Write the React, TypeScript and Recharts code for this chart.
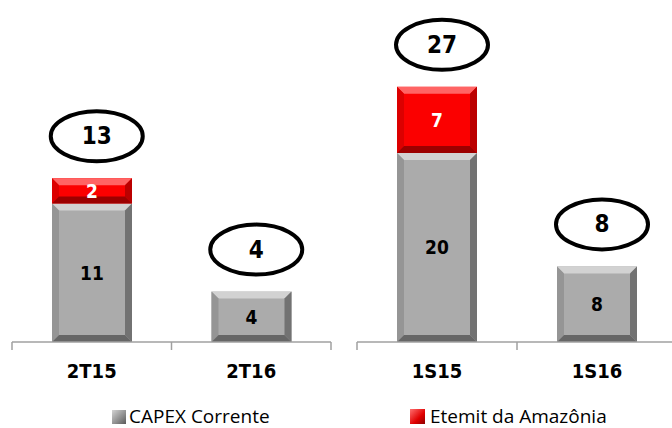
import React from "react";
import {
  Bar,
  ComposedChart,
  LabelList,
  Line,
  XAxis,
  YAxis,
} from "recharts";

const quarterLabels = ["2T15", "2T16"];
const quarterCapex = [11, 4];
const quarterEternit = [2, 0];

const semesterLabels = ["1S15", "1S16"];
const semesterCapex = [20, 8];
const semesterEternit = [7, 0];

const seriesNames = ["CAPEX Corrente", "Etemit da Amazônia"];

const build = (labels: string[], capex: number[], eternit: number[]) =>
  labels.map((name, i) => ({
    name,
    capex: capex[i],
    eternit: eternit[i],
    total: capex[i] + eternit[i],
  }));

const quarterData = build(quarterLabels, quarterCapex, quarterEternit);
const semesterData = build(semesterLabels, semesterCapex, semesterEternit);

const BOLD = "DejaVu Sans Condensed, DejaVu Sans, sans-serif";

const GRAY = { face: "#ababab", top: "#d2d2d2", left: "#959595", right: "#727272", bottom: "#666666" };
const RED = { face: "#fb0000", top: "#ff6464", left: "#dc0000", right: "#bb0000", bottom: "#9c0000" };

function bevelShape(c: typeof GRAY) {
  return (props: any) => {
    const { x, y, width: w, height: h } = props;
    if (!h || h <= 0) return <g />;
    const b = Math.min(7, h / 3);
    return (
      <g>
        <rect x={x} y={y} width={w} height={h} fill={c.face} />
        <polygon points={`${x},${y} ${x + w},${y} ${x + w - b},${y + b} ${x + b},${y + b}`} fill={c.top} />
        <polygon points={`${x},${y} ${x + b},${y + b} ${x + b},${y + h - b} ${x},${y + h}`} fill={c.left} />
        <polygon points={`${x + w},${y} ${x + w},${y + h} ${x + w - b},${y + h - b} ${x + w - b},${y + b}`} fill={c.right} />
        <polygon points={`${x},${y + h} ${x + b},${y + h - b} ${x + w - b},${y + h - b} ${x + w},${y + h}`} fill={c.bottom} />
      </g>
    );
  };
}

const valueLabel = (color: string) => (props: any) => {
  const { x, y, width, height, value } = props;
  if (!value) return null;
  return (
    <text
      x={x + width / 2}
      y={y + height / 2}
      textAnchor="middle"
      dominantBaseline="central"
      fontFamily={BOLD}
      fontWeight="bold"
      fontSize={19}
      fill={color}
    >
      {value}
    </text>
  );
};

const totalEllipse = (props: any) => {
  const { cx, cy, value, index } = props;
  return (
    <g key={`tot-${index}`}>
      <ellipse cx={cx + 5} cy={cy - 42} rx={46} ry={25} fill="#fff" stroke="#000" strokeWidth={4} />
      <text
        x={cx + 5}
        y={cy - 42}
        textAnchor="middle"
        dominantBaseline="central"
        fontFamily={BOLD}
        fontWeight="bold"
        fontSize={24}
        fill="#000"
      >
        {value}
      </text>
    </g>
  );
};

const categoryTick = (half: number, count: number) => (props: any) => {
  const { x, y, payload, index } = props;
  return (
    <g>
      <line x1={x - half} y1={y} x2={x - half} y2={y + 8} stroke="#a0a0a0" strokeWidth={1.5} />
      {index === count - 1 && (
        <line x1={x + half} y1={y} x2={x + half} y2={y + 8} stroke="#a0a0a0" strokeWidth={1.5} />
      )}
      <text
        x={x}
        y={y + 36}
        textAnchor="middle"
        fontFamily={BOLD}
        fontWeight="bold"
        fontSize={20}
        fill="#000"
      >
        {payload.value}
      </text>
    </g>
  );
};

function Panel({
  data,
  width,
  max,
  margin,
  half,
}: {
  data: any[];
  width: number;
  max: number;
  margin: { top: number; right: number; left: number; bottom: number };
  half: number;
}) {
  return (
    <ComposedChart width={width} height={390} data={data} margin={margin} barCategoryGap={0}>
      <XAxis
        dataKey="name"
        height={48}
        tickLine={false}
        tickSize={0}
        tickMargin={0}
        axisLine={{ stroke: "#a0a0a0", strokeWidth: 1.5 }}
        tick={categoryTick(half, data.length)}
        interval={0}
      />
      <YAxis hide domain={[0, max]} />
      <Bar dataKey="capex" stackId="a" barSize={80} shape={bevelShape(GRAY)} isAnimationActive={false}>
        <LabelList dataKey="capex" content={valueLabel("#000")} />
      </Bar>
      <Bar dataKey="eternit" stackId="a" barSize={80} shape={bevelShape(RED)} isAnimationActive={false}>
        <LabelList dataKey="eternit" content={valueLabel("#fff")} />
      </Bar>
      <Line
        dataKey="total"
        stroke="none"
        dot={totalEllipse}
        activeDot={false}
        isAnimationActive={false}
        legendType="none"
      />
    </ComposedChart>
  );
}

export default function App() {
  return (
    <div
      style={{
        position: "absolute",
        left: 0,
        top: 0,
        width: 672,
        height: 428,
        overflow: "hidden",
        background: "#fff",
      }}
    >
      <div style={{ position: "absolute", left: 0, top: 0 }}>
        <Panel data={quarterData} width={340} max={26.75} margin={{ top: 5, right: 9, left: 12, bottom: 0 }} half={79.75} />
      </div>
      <div style={{ position: "absolute", left: 340, top: 0 }}>
        <Panel data={semesterData} width={337} max={35.66} margin={{ top: 5, right: 0, left: 17, bottom: 0 }} half={80} />
      </div>
      <svg width={672} height={38} style={{ position: "absolute", left: 0, top: 390 }}>
        <defs>
          <linearGradient id="lgGray" x1="0" y1="0" x2="1" y2="1">
            <stop offset="0" stopColor="#d4d4d4" />
            <stop offset="0.6" stopColor="#8c8c8c" />
            <stop offset="1" stopColor="#5a5a5a" />
          </linearGradient>
          <linearGradient id="lgRed" x1="0" y1="0" x2="1" y2="1">
            <stop offset="0" stopColor="#ff7070" />
            <stop offset="0.6" stopColor="#e00000" />
            <stop offset="1" stopColor="#8c0000" />
          </linearGradient>
        </defs>
        <rect x={112} y={20} width={14} height={14} fill="url(#lgGray)" />
        <text x={129} y={33} fontFamily="Open Sans, sans-serif" fontSize={19} fill="#000">
          {seriesNames[0]}
        </text>
        <rect x={410} y={19} width={15} height={15} fill="url(#lgRed)" />
        <text x={430} y={33} fontFamily="Open Sans, sans-serif" fontSize={19} fill="#000">
          {seriesNames[1]}
        </text>
      </svg>
    </div>
  );
}
